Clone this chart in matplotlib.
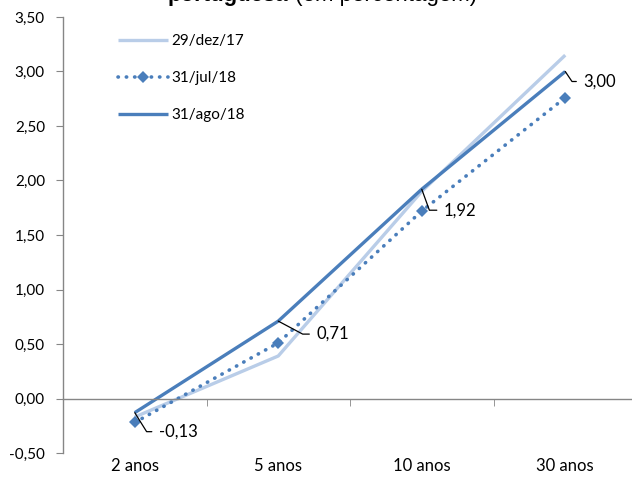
import numpy as np
import matplotlib.pyplot as plt

plt.rcParams['font.family'] = ['Lato', 'DejaVu Sans']

categories = ['2 anos', '5 anos', '10 anos', '30 anos']
dez17 = [-0.17, 0.39, 1.90, 3.15]
jul18 = [-0.22, 0.51, 1.72, 2.76]
ago18 = [-0.13, 0.71, 1.92, 3.00]
series_names = ['29/dez/17', '31/jul/18', '31/ago/18']
label_texts = ['-0,13', '0,71', '1,92', '3,00']
yticks = [-0.5, 0, 0.5, 1.0, 1.5, 2.0, 2.5, 3.0, 3.5]

dark = '#4A7EBB'
light = '#B9CDE8'
grey = '#868686'

fig = plt.figure(figsize=(6.32, 4.86), dpi=100)
ax = fig.add_axes([63 / 632, 33 / 486, 574 / 632, 436 / 486])
x = np.arange(len(categories))

ax.plot(x, dez17, color=light, lw=2.4, label=series_names[0], solid_capstyle='butt')
ax.plot(x, jul18, color=dark, lw=2.6, ls=(0, (0.1, 2.2)), dash_capstyle='round',
        marker='D', markersize=6.5, markeredgewidth=0, label=series_names[1])
ax.plot(x, ago18, color=dark, lw=2.4, label=series_names[2], solid_capstyle='butt')

# data labels with leader lines (last series only)
offsets = [(24, -19), (38, -13), (22, -21), (18, -10)]
angles = [-58, -28, -70, -56]
for xi, yi, txt, off, ang in zip(x, ago18, label_texts, offsets, angles):
    ax.annotate(txt, xy=(xi, yi), xytext=off, textcoords='offset pixels',
                fontsize=12, ha='left', va='center',
                arrowprops=dict(arrowstyle='-', color='black', lw=0.9,
                                shrinkA=3, shrinkB=0,
                                connectionstyle=f'angle,angleA=0,angleB={ang},rad=0',
                                relpos=(0, 0.5)))

ax.set_xlim(-0.5, 3.5)
ax.set_ylim(-0.5, 3.5)
ax.set_yticks(yticks)
ax.set_yticklabels([f'{v:.2f}'.replace('.', ',') for v in yticks])
ax.set_xticks(x)
ax.set_xticklabels(categories)
ax.set_xticks([0.5, 1.5, 2.5], minor=True)

for s in ['top', 'right']:
    ax.spines[s].set_visible(False)
ax.spines['bottom'].set_position(('data', 0))
for s in ['left', 'bottom']:
    ax.spines[s].set_color(grey)
    ax.spines[s].set_linewidth(1)
ax.tick_params(axis='y', direction='out', length=5, color=grey, pad=8, labelsize=11)
ax.tick_params(axis='x', which='major', length=0, pad=43, labelsize=12)
ax.tick_params(axis='x', which='minor', direction='out', length=5, color=grey)

ax.legend(loc='upper left', bbox_to_anchor=(118 / 632, 1 - 34 / 486),
          bbox_transform=fig.transFigure, frameon=False, fontsize=11,
          handlelength=3.3, handletextpad=0.2, labelspacing=1.52,
          borderpad=0, borderaxespad=0)

# title, cut off at the top of the image
t1 = fig.text(168 / 632, 1 - 1.5 / 486, 'portuguesa', fontsize=16, fontweight='bold',
              family='Liberation Sans', ha='left', va='baseline')
ax.annotate(' (em percentagem)', xy=(1, 0), xycoords=t1, fontsize=16,
            family='Liberation Sans', ha='left', va='bottom', annotation_clip=False)

fig.savefig('out.png', dpi=100)
